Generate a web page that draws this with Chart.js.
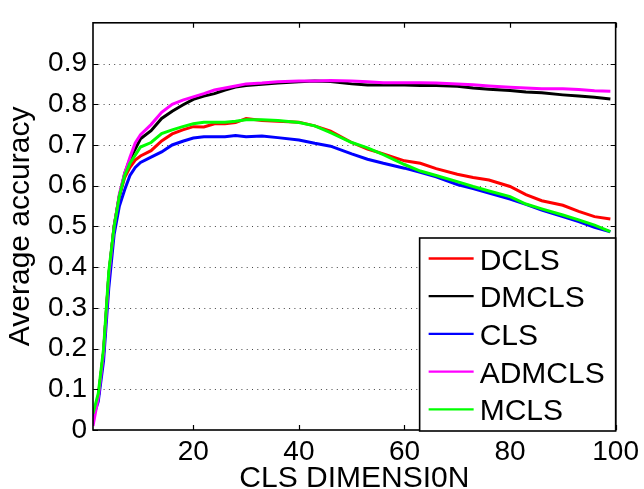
<!DOCTYPE html>
<html>
<head>
<meta charset="utf-8">
<script src="https://cdn.jsdelivr.net/npm/chart.js@4"></script>
<style>
html,body{margin:0;padding:0;background:#fff;}
#c{display:block;}
</style>
</head>
<body>
<canvas id="c" width="644" height="489"></canvas>
<script>
const dims = [1,2,3,4,5,6,7,8,9,10,12,14,16,18,20,22,24,26,28,30,33,36,40,43,46,50,53,56,60,63,66,70,73,76,80,83,86,90,93,96,99];
const DCLS   = [0.03,0.08,0.19,0.38,0.50,0.575,0.62,0.645,0.663,0.673,0.686,0.71,0.727,0.737,0.745,0.744,0.752,0.752,0.755,0.765,0.76,0.758,0.756,0.747,0.734,0.706,0.69,0.678,0.661,0.655,0.642,0.628,0.62,0.614,0.598,0.578,0.563,0.552,0.537,0.524,0.518];
const DMCLS  = [0.03,0.08,0.19,0.38,0.50,0.575,0.63,0.665,0.69,0.715,0.735,0.765,0.783,0.798,0.812,0.82,0.826,0.835,0.842,0.846,0.849,0.852,0.855,0.857,0.856,0.85,0.847,0.847,0.847,0.846,0.846,0.844,0.84,0.837,0.834,0.83,0.828,0.823,0.82,0.817,0.813];
const CLS    = [0.03,0.07,0.17,0.35,0.48,0.55,0.59,0.625,0.645,0.657,0.67,0.683,0.70,0.709,0.717,0.72,0.72,0.72,0.723,0.72,0.722,0.718,0.712,0.704,0.697,0.678,0.665,0.655,0.643,0.633,0.622,0.603,0.593,0.582,0.567,0.554,0.54,0.524,0.512,0.498,0.487];
const ADMCLS = [0.01,0.08,0.19,0.38,0.50,0.58,0.63,0.67,0.705,0.725,0.75,0.78,0.80,0.81,0.818,0.826,0.835,0.84,0.845,0.85,0.852,0.855,0.857,0.857,0.858,0.857,0.855,0.853,0.853,0.853,0.852,0.85,0.848,0.845,0.842,0.84,0.838,0.838,0.836,0.833,0.832];
const MCLS   = [0.04,0.09,0.20,0.39,0.50,0.575,0.625,0.655,0.675,0.695,0.706,0.728,0.737,0.745,0.752,0.756,0.756,0.756,0.758,0.762,0.762,0.76,0.755,0.747,0.73,0.706,0.693,0.676,0.652,0.636,0.625,0.61,0.598,0.587,0.573,0.555,0.543,0.528,0.516,0.503,0.487];
const seriesNames = ['DCLS','DMCLS','CLS','ADMCLS','MCLS'];
const seriesColors = ['#ff0000','#000000','#0000ff','#ff00ff','#00ff00'];
const xTicks = [20,40,60,80,100];
const yTicks = [0,0.1,0.2,0.3,0.4,0.5,0.6,0.7,0.8,0.9];
const xTitle = 'CLS DIMENSI0N';
const yTitle = 'Average accuracy';

const FONT = "'Liberation Sans', Arial, Helvetica, sans-serif";
const allSeries = [DCLS, DMCLS, CLS, ADMCLS, MCLS];

const datasets = allSeries.map((vals, i) => ({
  label: seriesNames[i],
  data: dims.map((d, j) => ({x: d, y: vals[j]})),
  borderColor: seriesColors[i],
  backgroundColor: seriesColors[i],
  borderWidth: 3,
  pointRadius: 0,
  tension: 0,
  fill: false,
  order: allSeries.length - i
}));

const framePlugin = {
  id: 'frame',
  beforeDatasetsDraw(chart) {
    const {ctx, chartArea: a, scales: {x, y}} = chart;
    ctx.save();
    ctx.strokeStyle = '#444';
    ctx.lineWidth = 1;
    ctx.setLineDash([1, 4.3]);
    yTicks.forEach(v => {
      if (v <= 0) return;
      const py = Math.round(y.getPixelForValue(v)) + 0.5;
      ctx.beginPath();
      ctx.moveTo(a.left, py);
      ctx.lineTo(a.right, py);
      ctx.stroke();
    });
    ctx.restore();
  },
  afterDatasetsDraw(chart) {
    const {ctx, chartArea: a, scales: {x, y}} = chart;
    ctx.save();
    ctx.strokeStyle = '#000';
    ctx.lineWidth = 1.2;
    ctx.setLineDash([]);
    const tl = 5;
    xTicks.forEach(v => {
      const px = Math.round(x.getPixelForValue(v)) + 0.5;
      ctx.beginPath();
      ctx.moveTo(px, a.bottom); ctx.lineTo(px, a.bottom - tl);
      ctx.moveTo(px, a.top); ctx.lineTo(px, a.top + tl);
      ctx.stroke();
    });
    yTicks.forEach(v => {
      const py = Math.round(y.getPixelForValue(v)) + 0.5;
      ctx.beginPath();
      ctx.moveTo(a.left, py); ctx.lineTo(a.left + tl, py);
      ctx.moveTo(a.right, py); ctx.lineTo(a.right - tl, py);
      ctx.stroke();
    });
    ctx.lineWidth = 1.6;
    ctx.strokeRect(a.left, a.top, a.right - a.left, a.bottom - a.top);
    ctx.restore();
  },
  afterDraw(chart) {
    const {ctx, chartArea: a} = chart;
    const w = 196, h = 193;
    const lx = a.right - w, ly = a.bottom - h + 1;
    ctx.save();
    ctx.fillStyle = '#fff';
    ctx.fillRect(lx, ly, w, h);
    ctx.strokeStyle = '#000';
    ctx.lineWidth = 1.6;
    ctx.strokeRect(lx, ly, w, h);
    ctx.font = '30px ' + FONT;
    ctx.textBaseline = 'alphabetic';
    ctx.textAlign = 'left';
    const rowH = 37.7;
    seriesNames.forEach((n, i) => {
      const cy = ly + 20.5 + i * rowH;
      ctx.strokeStyle = seriesColors[i];
      ctx.lineWidth = 2.3;
      ctx.beginPath();
      ctx.moveTo(lx + 9, cy); ctx.lineTo(lx + 54, cy);
      ctx.stroke();
      ctx.fillStyle = '#000';
      ctx.fillText(n, lx + 60, cy + 11);
    });
    ctx.restore();
  }
};

new Chart(document.getElementById('c'), {
  type: 'line',
  data: {datasets},
  plugins: [framePlugin],
  options: {
    responsive: false,
    animation: false,
    devicePixelRatio: 1,
    layout: {padding: {top: 9, right: 26, left: 0, bottom: 0}},
    plugins: {legend: {display: false}, tooltip: {enabled: false}},
    scales: {
      x: {
        type: 'linear', min: 1, max: 100,
        afterBuildTicks(s) { s.ticks = xTicks.map(v => ({value: v})); },
        afterFit(s) { s.height = 59; },
        grid: {display: false, drawTicks: false},
        border: {display: false},
        ticks: {font: {size: 28, family: FONT}, color: '#000', padding: 5, maxRotation: 0, autoSkip: false},
        title: {display: true, text: xTitle, color: '#000', font: {size: 30, family: FONT, lineHeight: 0.7}, padding: 0}
      },
      y: {
        type: 'linear', min: 0, max: 1,
        afterBuildTicks(s) { s.ticks = yTicks.map(v => ({value: v})); },
        afterFit(s) { s.width = 93; },
        grid: {display: false, drawTicks: false},
        border: {display: false},
        ticks: {font: {size: 28, family: FONT}, color: '#000', padding: 6, autoSkip: false,
          callback: v => (v === 0 ? '0' : v.toFixed(1))},
        title: {display: true, text: yTitle, color: '#000', font: {size: 30, family: FONT, lineHeight: 1}, padding: {top: 6}}
      }
    }
  }
});
</script>
</body>
</html>
